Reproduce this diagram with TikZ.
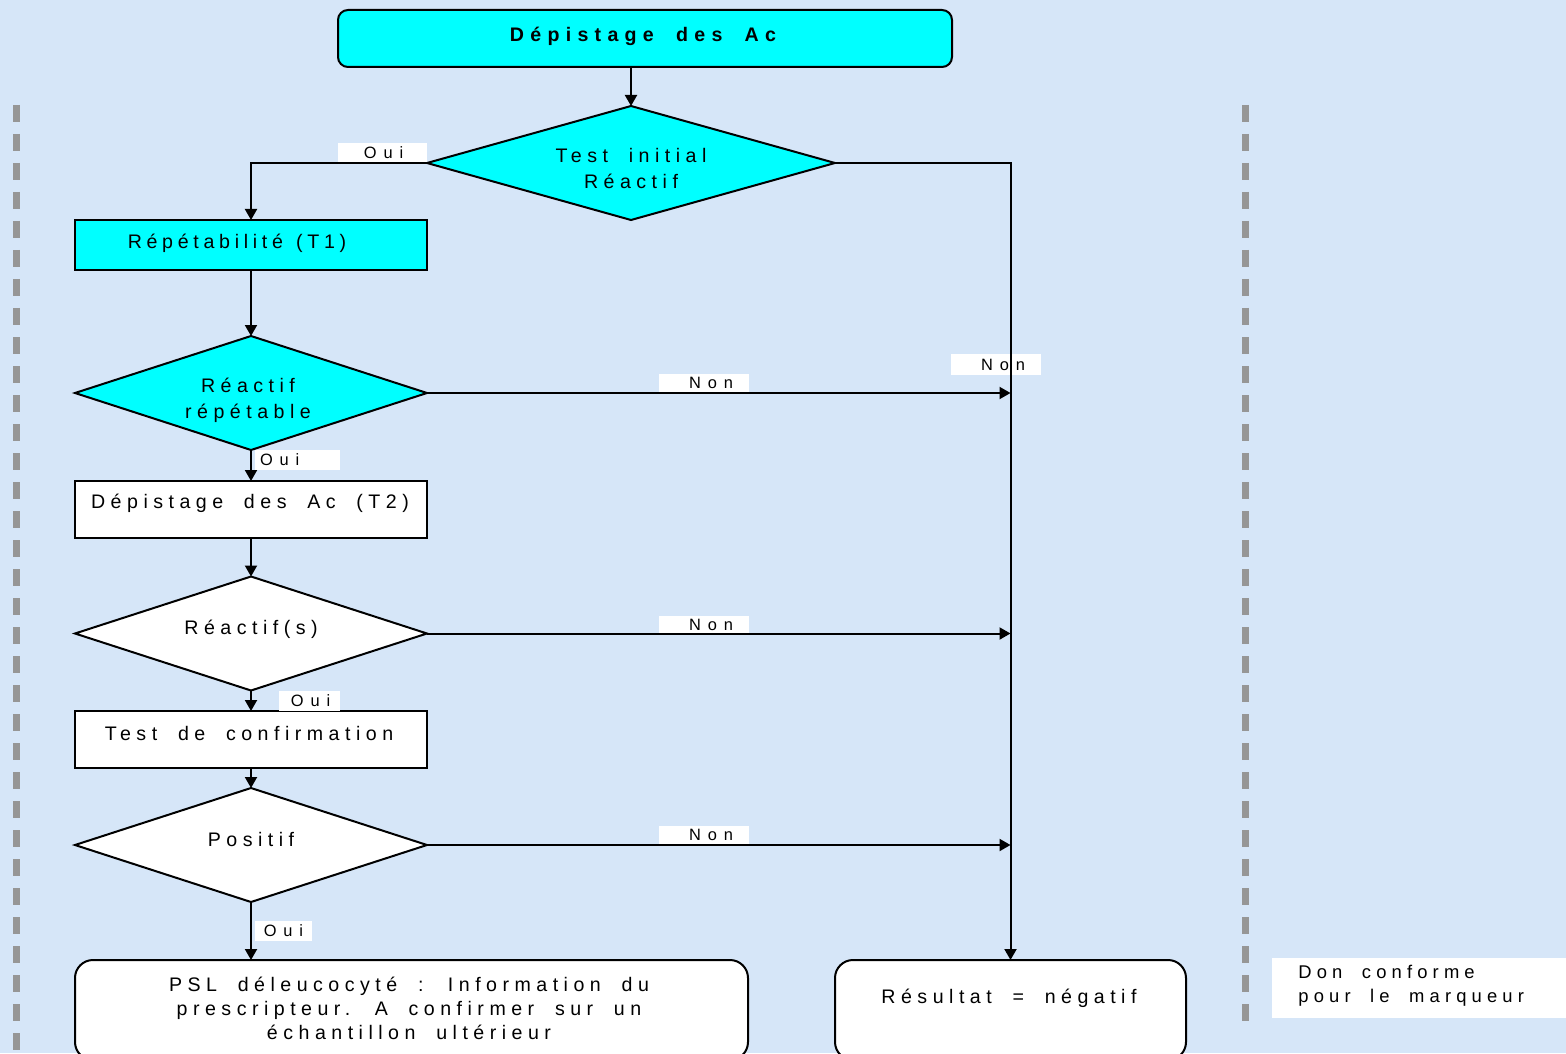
\documentclass[tikz,border=0pt]{standalone}
\usepackage{fontspec}
\setmainfont{Liberation Sans}[LetterSpace=28,WordSpace=1.9]
\newfontfamily\titlefont{Liberation Sans Bold}[LetterSpace=32,WordSpace=1.9]
\newfontfamily\labfont{Liberation Sans}[LetterSpace=42]
\newfontfamily\narrowfont{Liberation Sans}[LetterSpace=24,WordSpace=1.3]
\usetikzlibrary{shapes.geometric,arrows.meta}
\definecolor{bgblue}{RGB}{214,230,248}
\definecolor{boxcyan}{RGB}{0,255,255}
\definecolor{railgray}{RGB}{150,150,150}

\begin{document}
\begin{tikzpicture}[x=0.5pt,y=-0.5pt,
  box/.style={draw=black,line width=1pt,rectangle,inner sep=0pt,outer sep=0pt},
  dia/.style={draw=black,line width=1pt,diamond,inner sep=0pt,outer sep=0pt,
              minimum width=176pt,minimum height=57pt},
  txt/.style={font=\fontsize{9.8}{13}\selectfont,align=center,inner sep=0pt},
  lbl/.style={fill=white,font=\labfont\fontsize{8.2}{10}\selectfont,inner sep=0pt,minimum height=9.5pt},
  arr/.style={line width=1pt,-{Triangle[length=5.5pt,width=6pt]}},
  rail/.style={draw=railgray,line width=3.5pt,dash pattern=on 8.5pt off 6pt},
]
% page and background
\fill[bgblue] (0,0) rectangle (1566,1053);
\useasboundingbox (0,0) rectangle (1566,1053);

% dashed side rails
\draw[rail] (16.5,105) -- (16.5,1053);
\draw[rail] (1245,105) -- (1245,1032);

% flow boxes and decisions
\node[box,fill=boxcyan,rounded corners=5pt,minimum width=307pt,minimum height=28.5pt] (top) at (645,38.5) {};
\node[txt,font=\titlefont\fontsize{9.8}{13}\selectfont] (toptxt) at (643,36) {Dépistage des Ac};

\node[dia,fill=boxcyan,minimum width=204pt] (d1) at (631,163) {};
\node[txt] (d1txt) at (631,168) {Test initial\\Réactif};

\node[box,fill=boxcyan,minimum width=176pt,minimum height=25pt] (t1) at (251,245) {};
\node[txt,font=\narrowfont\fontsize{9.8}{13}\selectfont] (t1txt) at (237,243) {Répétabilité (T1)};

\node[dia,fill=boxcyan] (d2) at (251,393) {};
\node[txt] (d2txt) at (248,400) {Réactif\\répétable};

\node[box,fill=white,minimum width=176pt,minimum height=28.5pt] (t2) at (251,509.5) {};
\node[txt] (t2txt) at (250,503) {Dépistage des Ac (T2)};

\node[dia,fill=white] (d3) at (251,633.5) {};
\node[txt] (d3txt) at (251,629) {Réactif(s)};

\node[box,fill=white,minimum width=176pt,minimum height=28.5pt] (conf) at (251,739.5) {};
\node[txt] (conftxt) at (249,733) {Test de confirmation};

\node[dia,fill=white] (d4) at (251,845) {};
\node[txt] (d4txt) at (251,839) {Positif};

\node[box,fill=white,rounded corners=9pt,minimum width=336.5pt,minimum height=50pt] (psl) at (411.5,1010) {};
\node[txt,font=\fontsize{9.8}{12}\selectfont] (psltxt) at (409,1008)
  {PSL déleucocyté : Information du\\prescripteur. A confirmer sur un\\échantillon ultérieur};

\node[box,fill=white,rounded corners=9pt,minimum width=175.5pt,minimum height=50pt] (res) at (1010.5,1010) {};
\node[txt] (restxt) at (1009,998) {Résultat = négatif};

\node[fill=white,inner sep=0pt,minimum width=149pt,minimum height=30pt] (don) at (1421,988) {};
\node[txt,align=left,anchor=west,font=\fontsize{9.2}{12}\selectfont] (dontxt) at (1298,986) {Don conforme\\pour le marqueur};

% branch labels
\node[lbl,minimum width=44.5pt] (oui1) at (382.5,153) {\hspace*{1pt}Oui};
\node[lbl,minimum width=45pt,minimum height=10.5pt] (non1) at (996,364.5) {\hspace*{7pt}Non};
\node[lbl,minimum width=45pt] (non2) at (704,383) {\hspace*{7pt}Non};
\node[lbl,text width=37.5pt,inner xsep=2.5pt,align=left,minimum height=10pt] (oui2) at (297.5,460) {Oui};
\node[lbl,minimum width=45pt] (non3) at (704,625) {\hspace*{7pt}Non};
\node[lbl,minimum width=30.5pt,minimum height=10pt] (oui3) at (309.5,701) {\hspace*{1pt}Oui};
\node[lbl,minimum width=28.5pt,minimum height=10pt] (oui4) at (283.5,931) {Oui};
\node[lbl,minimum width=45pt] (non4) at (704,835) {\hspace*{7pt}Non};

% connectors
\draw[arr] (top.south -| d1.north) -- (d1.north);
\draw[arr] (d1.west) -| (t1.north);
\draw[arr] (d1.east) -| (res.north);
\draw[arr] (t1.south) -- (d2.north);
\draw[arr] (d2.east) -- (d2.east -| res.north);
\draw[arr] (d2.south) -- (t2.north);
\draw[arr] (t2.south) -- (d3.north);
\draw[arr] (d3.east) -- (d3.east -| res.north);
\draw[arr] (d3.south) -- (conf.north);
\draw[arr] (conf.south) -- (d4.north);
\draw[arr] (d4.east) -- (d4.east -| res.north);
\draw[arr] (d4.south) -- (d4.south |- psl.north);
\end{tikzpicture}
\end{document}
